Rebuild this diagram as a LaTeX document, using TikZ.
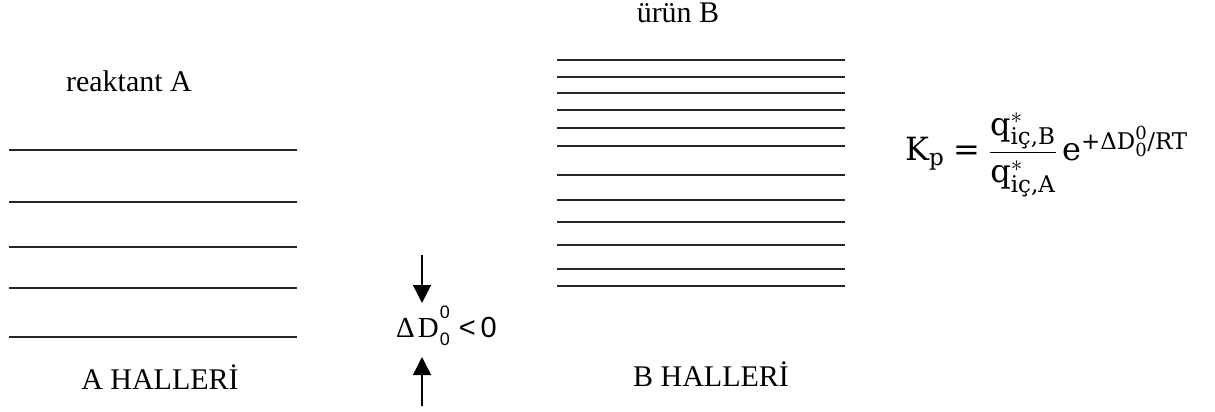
\RequirePackage{fix-cm}
\documentclass[tikz,border=0pt]{standalone}
\usepackage{amsmath}
\usepackage{fontspec}
\setmainfont{Liberation Serif}
\newfontfamily\cam{DejaVu Serif}
\newfontfamily\arialf{Liberation Sans}
\DeclareMathSizes{32}{32}{23}{18}
\usetikzlibrary{arrows.meta}
\begin{document}
\begin{tikzpicture}[x=1pt,y=-1pt,
  level/.style={line width=1.7pt,draw=black!85},
  lbl/.style={font=\fontsize{30}{36}\selectfont, inner sep=0pt, anchor=base},
  gap/.style={-{Triangle[width=18pt,length=18pt]}, line width=1.4pt}]
\useasboundingbox (0,0) rectangle (1215,412);
\foreach \y in {150,202,247,288,337} \draw[level] (9,\y) -- (297,\y);
\foreach \y in {60,77,93,110,128,146,175,200,222,245,269,286} \draw[level] (557,\y) -- (845,\y);
\node[lbl] (ra) at (129,91) {reaktant A};
\node[lbl] (ah) at (160,389) {A HALLERİ};
\node[lbl] (ub) at (678,23) {ürün B};
\node[lbl] (bh) at (711,386) {B HALLERİ};
\node[anchor=base west, inner sep=0pt, font=\fontsize{29}{34}\selectfont] (dd) at (396,337)
  {Δ\kern3pt D\kern1pt\rlap{\raisebox{19pt}{\fontsize{18}{18}\selectfont\arialf 0}}\raisebox{-8pt}{\fontsize{18}{18}\selectfont\arialf 0}\kern9pt{\fontsize{29}{32}\selectfont\arialf <\kern5pt 0}};
\coordinate (dtail) at (422,255);
\coordinate (dtip) at (422,303);
\coordinate (utail) at (422,406);
\coordinate (utip) at (422,357);
\draw[gap] (dtail) -- (dtip);
\draw[gap] (utail) -- (utip);
\node[anchor=west, inner sep=0pt, font=\fontsize{32}{38}\selectfont\cam] (kp) at (905,155)
  {$\text{K}_{\text{p}} \mathrel{\text{=}} \dfrac{\text{q}^{*}_{\text{iç,B}}}{\text{q}^{*}_{\text{iç,A}}}\,\text{e}^{\text{+ΔD}^{\text{0}}_{\text{0}}\text{/RT}}$};
\end{tikzpicture}
\end{document}
